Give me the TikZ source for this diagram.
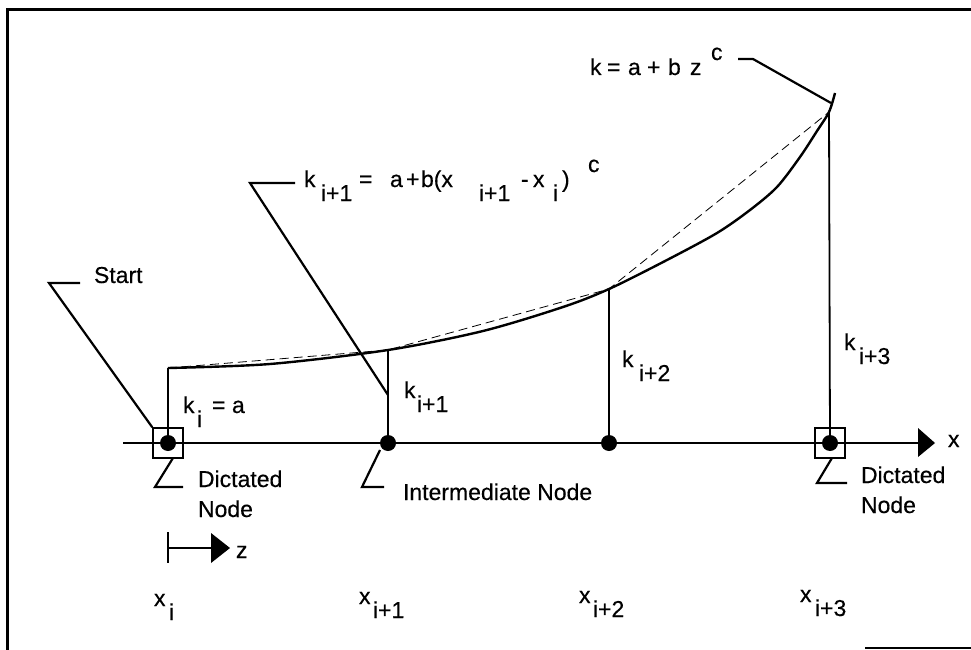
\documentclass[tikz,border=0pt]{standalone}
\usepackage{fontspec}
\setmainfont{Liberation Sans}[FakeBold=0.4]
\newcommand{\gl}[2]{\rlap{\hspace*{#1pt}#2}}
\newcommand{\lo}[1]{\raisebox{-14pt}{#1}}
\newcommand{\hi}[1]{\raisebox{15pt}{#1}}
\begin{document}
\begin{tikzpicture}[x=1pt,y=-1pt,
  lbl/.style={inner sep=0pt,outer sep=0pt,anchor=base west,font=\fontsize{23}{27}\selectfont},
  dot/.style={circle,fill=black,inner sep=0pt,minimum size=16pt},
  sq/.style={draw,line width=1.6pt,inner sep=0pt,minimum size=30pt},
  leader/.style={line width=2.2pt},
  stem/.style={line width=1.8pt},
  curve/.style={line width=2.4pt},
  chord/.style={line width=0.8pt,dash pattern=on 9pt off 5pt},
  frame/.style={line width=3pt}]
\useasboundingbox (0,0) rectangle (971,650);
% frame
\coordinate (fa) at (7,650); \coordinate (fb) at (7,10); \coordinate (fc) at (971,10);
\draw[frame] (fa) -- (fb) -- (fc);
\coordinate (fd) at (865,648); \coordinate (fe) at (971,648);
\draw[line width=2.4pt] (fd) -- (fe);
% axis
\coordinate (ax0) at (123,443); \coordinate (ax1) at (920,443);
\draw[line width=2pt] (ax0) -- (ax1);
\fill (918,428) -- (935,443) -- (918,457) -- cycle;
\node[lbl] (xl) at (948,447) {x};
% curve heights
\coordinate (c1) at (168,368); \coordinate (c2) at (388,350);
\coordinate (c3) at (609,289); \coordinate (c4) at (829,112);
\draw[curve] plot[smooth,tension=0.5] coordinates {(168,368) (270,364) (388,350) (483,331) (563,307) (609,289) (667,260) (717,233) (750,210) (777,187) (800,157) (817,131) (829,112) (835,93)};
\draw[chord] (c1) -- (c2) -- (c3) -- (c4);
% nodes
\node[sq] (b1) at (168,443) {};
\node[sq] (b4) at (830,443) {};
\node[dot] (n1) at (168,443) {};
\node[dot] (n2) at (388,443) {};
\node[dot] (n3) at (609,443) {};
\node[dot] (n4) at (830,443) {};
\draw[stem] (n1.center) -- (c1);
\draw[stem] (n2.center) -- (c2);
\draw[stem] (n3.center) -- (c3);
\draw[stem] (n4.center) -- (c4);
% k labels
\node[lbl] (ki) at (183,413) {\gl{0}{k}\gl{14}{\lo{i}}\gl{29}{=}\gl{49}{a}\hspace*{62pt}};
\node[lbl] (k1) at (404,398) {\gl{0}{k}\gl{13}{\lo{i+1}}\hspace*{45pt}};
\node[lbl] (k2) at (622,367) {\gl{0}{k}\gl{17}{\lo{i+2}}\hspace*{50pt}};
\node[lbl] (k3) at (844,350) {\gl{0}{k}\gl{15}{\lo{i+3}}\hspace*{48pt}};
% formulas
\node[lbl] (f1) at (304,187) {\gl{0}{k}\gl{17}{\lo{i+1}}\gl{55}{=}\gl{86}{a}\gl{102}{+}\gl{117}{b(x}\gl{175}{\lo{i+1}}\gl{217}{-}\gl{229}{x}\gl{249}{\lo{i}}\gl{258}{)}\gl{284}{\hi{c}}\hspace*{298pt}};
\node[lbl] (f2) at (590,75) {\gl{0}{k}\gl{17}{=}\gl{38}{a}\gl{57}{+}\gl{78}{b}\gl{100}{z}\gl{121}{\hi{c}}\hspace*{133pt}};
\coordinate (f1a) at (295,183); \coordinate (f1b) at (250,183); \coordinate (f1c) at (388,395);
\draw[leader] (f1a) -- (f1b) -- (f1c);
\coordinate (f2a) at (738,59); \coordinate (f2b) at (753,59); \coordinate (f2c) at (831,103);
\draw[leader] (f2a) -- (f2b) -- (f2c);
% Start
\node[lbl] (st) at (94,283) {Start};
\coordinate (sa) at (80,283); \coordinate (sb) at (49,283);
\draw[leader] (sa) -- (sb) -- (b1.north west);
% Dictated left
\node[lbl] (d1) at (198,487) {Dictated};
\node[lbl] (d1n) at (198,517) {Node};
\coordinate (d1a) at (173,458); \coordinate (d1b) at (155,487); \coordinate (d1c) at (183,487);
\draw[leader] (d1a) -- (d1b) -- (d1c);
% Intermediate
\node[lbl] (im) at (403,500) {Intermediate Node};
\coordinate (ima) at (380,450); \coordinate (imb) at (362,487); \coordinate (imc) at (384,487);
\draw[leader] (ima) -- (imb) -- (imc);
% Dictated right
\node[lbl] (d4) at (861,483) {Dictated};
\node[lbl] (d4n) at (861,513) {Node};
\coordinate (d4a) at (832,458); \coordinate (d4b) at (817,483); \coordinate (d4c) at (847,483);
\draw[leader] (d4a) -- (d4b) -- (d4c);
% z arrow
\coordinate (za) at (168,532); \coordinate (zb) at (168,563);
\coordinate (zc) at (168,548); \coordinate (zd) at (213,548);
\draw[line width=2pt] (za) -- (zb);
\draw[line width=2pt] (zc) -- (zd);
\fill (211,533) -- (230,548) -- (211,563) -- cycle;
\node[lbl] (zl) at (236,558) {z};
% x labels
\node[lbl] (x0) at (154,606) {\gl{0}{x}\gl{15}{\lo{i}}\hspace*{20pt}};
\node[lbl] (x1) at (359,604) {\gl{0}{x}\gl{14}{\lo{i+1}}\hspace*{46pt}};
\node[lbl] (x2) at (579,603) {\gl{0}{x}\gl{14}{\lo{i+2}}\hspace*{48pt}};
\node[lbl] (x3) at (800,602) {\gl{0}{x}\gl{15}{\lo{i+3}}\hspace*{49pt}};
\end{tikzpicture}
\end{document}
